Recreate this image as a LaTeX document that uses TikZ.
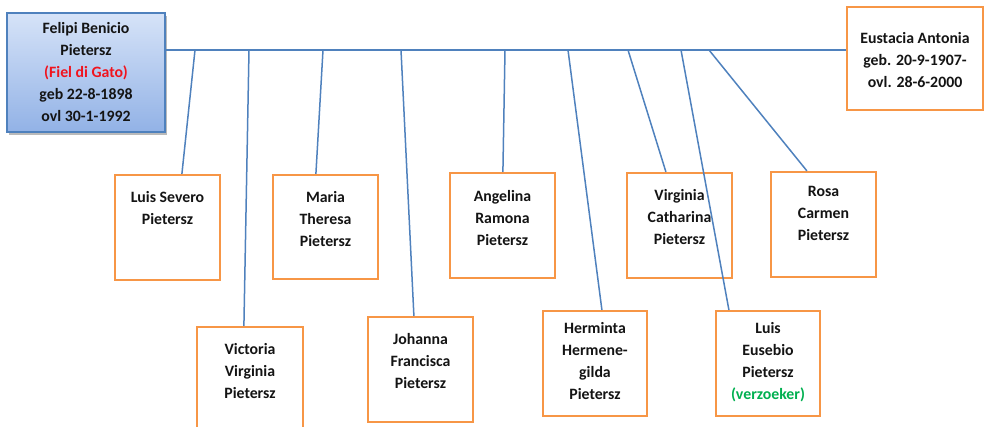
\documentclass[tikz,border=0pt]{standalone}
\usepackage{fontspec}
\setmainfont{Carlito}
\usetikzlibrary{calc,shadows}
\definecolor{orng}{RGB}{247,150,70}
\definecolor{lblue}{RGB}{79,129,189}
\definecolor{tred}{RGB}{240,20,30}
\definecolor{tgreen}{RGB}{0,176,80}
\definecolor{ftop}{RGB}{214,227,248}
\definecolor{fbot}{RGB}{146,178,230}
\definecolor{txt}{RGB}{20,20,20}
\begin{document}
\begin{tikzpicture}[x=1pt,y=-1pt,
  childbox/.style={draw=orng,line width=2.2pt,fill=white,inner sep=0pt,minimum width=105pt,minimum height=105pt},
  label text/.style={inner sep=0pt,align=center,text=txt,font=\bfseries\fontsize{15.8}{22}\selectfont},
  barline/.style={draw=lblue,line width=1.6pt},
  dropline/.style={draw=lblue,line width=1.5pt}]
\useasboundingbox (0,0) rectangle (985,427);
% parents
\node[draw=lblue,line width=1.5pt,top color=ftop,bottom color=fbot,
      minimum width=158pt,minimum height=119pt,inner sep=0pt,
      drop shadow={shadow xshift=2pt,shadow yshift=-3pt,fill=black!60,opacity=0.45},
      label text] (fa) at (86,72.5)
  {Felipi Benicio\\Pietersz\\{\color{tred}(Fiel di Gato)}\\geb 22-8-1898\\ovl 30-1-1992};
\node[draw=orng,line width=2.2pt,fill=white,minimum width=136pt,minimum height=103pt,inner sep=0pt] (mo) at (915,58.5) {};
\node[label text] (mot) at ($(mo.center)+(0,2)$) {Eustacia Antonia\\geb. 20-9-1907-\\ovl. 28-6-2000};
% children boxes
\node[childbox] (ls) at (167.5,227.5) {};
\node[childbox,minimum height=104pt] (mt) at (325.5,227) {};
\node[childbox] (ar) at (502.5,225.5) {};
\node[childbox] (vc) at (679.5,225.5) {};
\node[childbox] (rc) at (823.5,224.5) {};
\node[childbox,minimum width=106pt] (vv) at (250,379.5) {};
\node[childbox] (jf) at (420.5,369.5) {};
\node[childbox,minimum width=104pt] (hh) at (595,363.5) {};
\node[childbox,minimum width=104pt] (le) at (768,363.5) {};
% children texts
\node[label text,anchor=north] (lst) at ($(ls.north)+(0,17)$) {Luis Severo\\Pietersz};
\node[label text,anchor=north] (mtt) at ($(mt.north)+(0,17)$) {Maria\\Theresa\\Pietersz};
\node[label text,anchor=north] (art) at ($(ar.north)+(0,18)$) {Angelina\\Ramona\\Pietersz};
\node[label text,anchor=north] (vct) at ($(vc.north)+(0,17)$) {Virginia\\Catharina\\Pietersz};
\node[label text,anchor=north] (rct) at ($(rc.north)+(0,15)$) {Rosa\\Carmen\\Pietersz};
\node[label text,anchor=north] (vvt) at ($(vv.north)+(0,17)$) {Victoria\\Virginia\\Pietersz};
\node[label text,anchor=north] (jft) at ($(jf.north)+(0,17)$) {Johanna\\Francisca\\Pietersz};
\node[label text,anchor=north] (hht) at ($(hh.north)+(0,12)$) {Herminta\\Hermene-\\gilda\\Pietersz};
\node[label text,anchor=north] (let) at ($(le.north)+(0,12)$) {Luis\\Eusebio\\Pietersz\\{\color{tgreen}(verzoeker)}};
% bar
\coordinate (b0) at (0,50);
\draw[barline] (fa.east |- b0) -- (mo.west |- b0);
\coordinate (b1) at (195,50);
\coordinate (b2) at (249,50);
\coordinate (b3) at (323,50);
\coordinate (b4) at (401,50);
\coordinate (b5) at (505,50);
\coordinate (b6) at (568,50);
\coordinate (b7) at (628,50);
\coordinate (b8) at (681,50);
\coordinate (b9) at (709,50);
% drops
\draw[dropline] (b1) -- ($(ls.north west)+(68,0)$);
\draw[dropline] (b2) -- ($(vv.north west)+(48,0)$);
\draw[dropline] (b3) -- ($(mt.north west)+(44,0)$);
\draw[dropline] (b4) -- ($(jf.north west)+(47,0)$);
\draw[dropline] (b5) -- ($(ar.north west)+(54,0)$);
\draw[dropline] (b6) -- ($(hh.north west)+(60,0)$);
\draw[dropline] (b7) -- ($(vc.north west)+(40,0)$);
\draw[dropline] (b8) -- ($(le.north west)+(14,0)$);
\draw[dropline] (b9) -- ($(rc.north west)+(37,0)$);
\end{tikzpicture}
\end{document}
